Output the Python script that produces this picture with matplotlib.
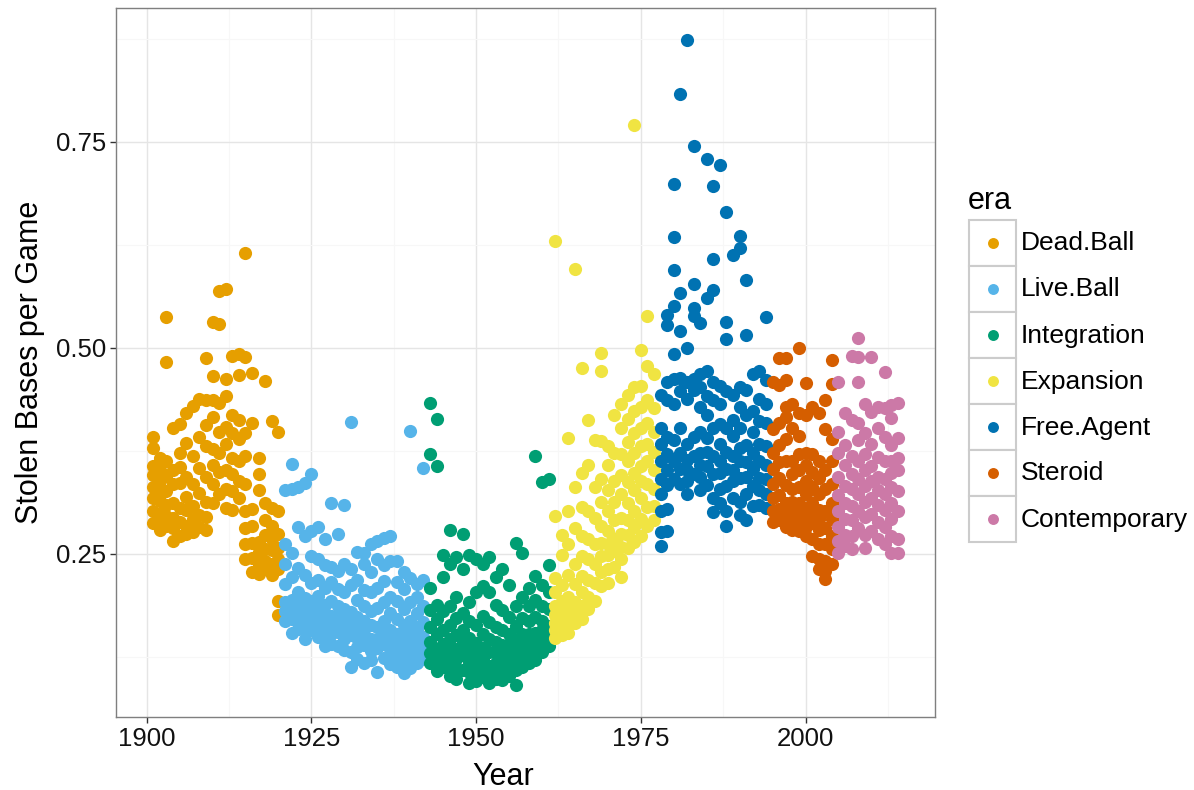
import numpy as np
import pandas as pd
import matplotlib
matplotlib.use("Agg")
import matplotlib.pyplot as plt
from matplotlib.patches import Rectangle

plt.rcParams['font.family'] = ['Liberation Sans', 'DejaVu Sans']

# stolen bases per game, one value per team-season
dead_ball = {
    1901: [0.392, 0.378, 0.357, 0.346, 0.331, 0.318, 0.302, 0.287],
    1902: [0.366, 0.352, 0.338, 0.327, 0.314, 0.298, 0.286, 0.279],
    1903: [0.537, 0.483, 0.362, 0.344, 0.326, 0.309, 0.296, 0.284],
    1904: [0.403, 0.351, 0.334, 0.312, 0.293, 0.281, 0.265],
    1905: [0.407, 0.372, 0.355, 0.336, 0.305, 0.288, 0.271],
    1906: [0.421, 0.384, 0.343, 0.319, 0.303, 0.284, 0.274],
    1907: [0.429, 0.368, 0.335, 0.308, 0.292, 0.276],
    1908: [0.438, 0.392, 0.354, 0.324, 0.297, 0.283],
    1909: [0.488, 0.437, 0.406, 0.381, 0.343, 0.313, 0.294, 0.279],
    1910: [0.531, 0.466, 0.437, 0.416, 0.377, 0.358, 0.334, 0.311],
    1911: [0.569, 0.529, 0.433, 0.398, 0.372, 0.349, 0.323],
    1912: [0.571, 0.462, 0.441, 0.404, 0.383, 0.352, 0.328, 0.306],
    1913: [0.490, 0.418, 0.396, 0.366, 0.347, 0.326, 0.303],
    1914: [0.492, 0.467, 0.412, 0.389, 0.362, 0.338, 0.317],
    1915: [0.615, 0.489, 0.397, 0.368, 0.334, 0.302, 0.281, 0.262, 0.243],
    1916: [0.469, 0.408, 0.304, 0.284, 0.263, 0.245, 0.228],
    1917: [0.366, 0.347, 0.327, 0.264, 0.252, 0.238, 0.226],
    1918: [0.460, 0.312, 0.291, 0.273, 0.256, 0.241, 0.232],
    1919: [0.411, 0.306, 0.284, 0.268, 0.254, 0.237, 0.224],
    1920: [0.398, 0.302, 0.274, 0.257, 0.243, 0.231, 0.193, 0.176],
}
live_ball = {
    1921: [0.327, 0.262, 0.238, 0.213, 0.192, 0.181, 0.168],
    1922: [0.359, 0.328, 0.251, 0.222, 0.194, 0.183, 0.171, 0.154],
    1923: [0.331, 0.283, 0.233, 0.204, 0.186, 0.173, 0.159],
    1924: [0.336, 0.271, 0.224, 0.196, 0.182, 0.169, 0.158, 0.147],
    1925: [0.347, 0.278, 0.247, 0.214, 0.193, 0.178, 0.166, 0.157],
    1926: [0.282, 0.243, 0.218, 0.199, 0.184, 0.172, 0.161, 0.149],
    1927: [0.268, 0.236, 0.209, 0.188, 0.177, 0.167, 0.158, 0.146, 0.138],
    1928: [0.311, 0.234, 0.216, 0.193, 0.174, 0.162, 0.152, 0.141],
    1929: [0.274, 0.229, 0.207, 0.186, 0.176, 0.164, 0.155, 0.138],
    1930: [0.309, 0.238, 0.203, 0.183, 0.171, 0.158, 0.147, 0.133],
    1931: [0.410, 0.232, 0.212, 0.179, 0.163, 0.151, 0.131, 0.112],
    1932: [0.252, 0.218, 0.194, 0.173, 0.162, 0.148, 0.137, 0.122],
    1933: [0.251, 0.237, 0.206, 0.187, 0.168, 0.153, 0.139, 0.118],
    1934: [0.262, 0.228, 0.203, 0.181, 0.163, 0.147, 0.132, 0.121],
    1935: [0.266, 0.243, 0.208, 0.184, 0.161, 0.146, 0.136, 0.107],
    1936: [0.269, 0.236, 0.217, 0.192, 0.168, 0.152, 0.141, 0.124],
    1937: [0.272, 0.241, 0.198, 0.178, 0.158, 0.143, 0.129, 0.116],
    1938: [0.241, 0.216, 0.193, 0.171, 0.153, 0.138, 0.127, 0.113],
    1939: [0.228, 0.207, 0.183, 0.164, 0.148, 0.133, 0.121, 0.105],
    1940: [0.399, 0.221, 0.192, 0.168, 0.152, 0.139, 0.124, 0.111],
    1941: [0.213, 0.197, 0.178, 0.159, 0.143, 0.131, 0.118],
    1942: [0.354, 0.218, 0.187, 0.167, 0.149, 0.134, 0.122],
}
integration = {
    1943: [0.433, 0.371, 0.209, 0.182, 0.161, 0.143, 0.129, 0.117],
    1944: [0.413, 0.357, 0.188, 0.171, 0.152, 0.134, 0.121, 0.108],
    1945: [0.248, 0.222, 0.181, 0.158, 0.141, 0.128, 0.113],
    1946: [0.279, 0.238, 0.186, 0.163, 0.147, 0.132, 0.118, 0.102],
    1947: [0.246, 0.197, 0.172, 0.151, 0.134, 0.122, 0.111, 0.098],
    1948: [0.274, 0.231, 0.178, 0.157, 0.143, 0.127, 0.109],
    1949: [0.249, 0.192, 0.168, 0.148, 0.133, 0.119, 0.106, 0.093],
    1950: [0.244, 0.203, 0.163, 0.142, 0.128, 0.116, 0.103, 0.096],
    1951: [0.238, 0.211, 0.174, 0.152, 0.136, 0.124, 0.112, 0.101],
    1952: [0.246, 0.204, 0.167, 0.147, 0.131, 0.114, 0.104, 0.093],
    1953: [0.222, 0.188, 0.161, 0.143, 0.129, 0.117, 0.107, 0.098],
    1954: [0.231, 0.182, 0.158, 0.139, 0.126, 0.118, 0.108, 0.097],
    1955: [0.212, 0.173, 0.153, 0.141, 0.132, 0.122, 0.113, 0.102],
    1956: [0.263, 0.186, 0.162, 0.144, 0.133, 0.123, 0.109, 0.091],
    1957: [0.251, 0.198, 0.172, 0.153, 0.141, 0.131, 0.122, 0.112],
    1958: [0.208, 0.187, 0.168, 0.152, 0.139, 0.128, 0.117],
    1959: [0.369, 0.223, 0.194, 0.173, 0.154, 0.142, 0.132, 0.121],
    1960: [0.337, 0.212, 0.186, 0.168, 0.157, 0.143, 0.131],
    1961: [0.341, 0.236, 0.204, 0.183, 0.162, 0.149, 0.138],
}
expansion = {
    1962: [0.630, 0.296, 0.221, 0.203, 0.187, 0.176, 0.166, 0.157, 0.148],
    1963: [0.273, 0.248, 0.212, 0.193, 0.181, 0.169, 0.158, 0.151],
    1964: [0.391, 0.302, 0.262, 0.224, 0.198, 0.183, 0.172, 0.163, 0.154],
    1965: [0.595, 0.331, 0.281, 0.238, 0.213, 0.192, 0.177, 0.166],
    1966: [0.475, 0.348, 0.307, 0.272, 0.247, 0.223, 0.204, 0.186, 0.171],
    1967: [0.412, 0.358, 0.302, 0.268, 0.243, 0.218, 0.197, 0.183],
    1968: [0.388, 0.331, 0.293, 0.262, 0.238, 0.214, 0.193],
    1969: [0.493, 0.472, 0.387, 0.341, 0.313, 0.284, 0.263, 0.247, 0.228, 0.211],
    1970: [0.381, 0.358, 0.327, 0.302, 0.278, 0.262, 0.248, 0.232, 0.214],
    1971: [0.418, 0.372, 0.338, 0.313, 0.291, 0.268, 0.253, 0.234],
    1972: [0.432, 0.403, 0.371, 0.346, 0.322, 0.293, 0.274, 0.258, 0.243, 0.222],
    1973: [0.442, 0.413, 0.386, 0.362, 0.337, 0.312, 0.291, 0.273, 0.257],
    1974: [0.770, 0.452, 0.423, 0.397, 0.372, 0.348, 0.327, 0.302, 0.283, 0.264],
    1975: [0.497, 0.454, 0.428, 0.403, 0.381, 0.357, 0.338, 0.318, 0.292, 0.272],
    1976: [0.538, 0.478, 0.437, 0.408, 0.383, 0.362, 0.334, 0.307, 0.284],
    1977: [0.468, 0.427, 0.398, 0.373, 0.352, 0.328, 0.308, 0.291],
}
free_agent = {
    1978: [0.443, 0.402, 0.383, 0.362, 0.341, 0.322, 0.302, 0.276, 0.259],
    1979: [0.540, 0.528, 0.458, 0.437, 0.392, 0.371, 0.352, 0.333, 0.304, 0.278],
    1980: [0.699, 0.634, 0.594, 0.550, 0.492, 0.462, 0.432, 0.388, 0.362, 0.341],
    1981: [0.808, 0.566, 0.520, 0.463, 0.447, 0.403, 0.372, 0.353, 0.334],
    1982: [0.873, 0.500, 0.458, 0.438, 0.383, 0.364, 0.351, 0.338, 0.322],
    1983: [0.745, 0.577, 0.548, 0.538, 0.462, 0.449, 0.392, 0.368, 0.347],
    1984: [0.530, 0.468, 0.452, 0.428, 0.398, 0.372, 0.358, 0.343, 0.327],
    1985: [0.729, 0.560, 0.472, 0.441, 0.418, 0.391, 0.373, 0.357, 0.333],
    1986: [0.696, 0.607, 0.570, 0.458, 0.437, 0.402, 0.368, 0.347, 0.318, 0.301],
    1987: [0.722, 0.453, 0.432, 0.407, 0.383, 0.362, 0.348, 0.328, 0.312],
    1988: [0.664, 0.531, 0.511, 0.447, 0.403, 0.373, 0.353, 0.332, 0.302, 0.284],
    1989: [0.613, 0.442, 0.412, 0.393, 0.368, 0.352, 0.338, 0.318],
    1990: [0.635, 0.621, 0.452, 0.428, 0.402, 0.378, 0.362, 0.342, 0.313, 0.297],
    1991: [0.582, 0.515, 0.449, 0.418, 0.382, 0.361, 0.343, 0.322, 0.291],
    1992: [0.468, 0.423, 0.398, 0.372, 0.353, 0.332, 0.308],
    1993: [0.472, 0.438, 0.411, 0.383, 0.362, 0.342, 0.327, 0.309],
    1994: [0.537, 0.461, 0.432, 0.408, 0.381, 0.358, 0.341, 0.322, 0.305],
}
steroid = {
    1995: [0.458, 0.401, 0.372, 0.353, 0.334, 0.318, 0.302, 0.288],
    1996: [0.488, 0.455, 0.408, 0.382, 0.361, 0.342, 0.321, 0.304, 0.291],
    1997: [0.487, 0.461, 0.428, 0.416, 0.389, 0.362, 0.333, 0.312, 0.298, 0.283],
    1998: [0.432, 0.402, 0.363, 0.347, 0.328, 0.313, 0.301, 0.291, 0.279],
    1999: [0.500, 0.421, 0.393, 0.371, 0.352, 0.331, 0.312, 0.298, 0.289, 0.277],
    2000: [0.457, 0.418, 0.372, 0.358, 0.338, 0.322, 0.304, 0.293, 0.282, 0.271],
    2001: [0.428, 0.371, 0.349, 0.331, 0.312, 0.298, 0.287, 0.268, 0.247],
    2002: [0.421, 0.362, 0.342, 0.322, 0.303, 0.292, 0.279, 0.262, 0.243, 0.231],
    2003: [0.437, 0.401, 0.352, 0.328, 0.302, 0.281, 0.262, 0.241, 0.229, 0.219],
    2004: [0.485, 0.456, 0.389, 0.362, 0.334, 0.311, 0.292, 0.271, 0.256, 0.238],
}
contemporary = {
    2005: [0.458, 0.398, 0.372, 0.343, 0.321, 0.302, 0.283, 0.266, 0.251],
    2006: [0.421, 0.382, 0.358, 0.332, 0.311, 0.292, 0.273, 0.259],
    2007: [0.490, 0.412, 0.368, 0.347, 0.328, 0.308, 0.291, 0.272, 0.256],
    2008: [0.512, 0.489, 0.458, 0.409, 0.388, 0.362, 0.341, 0.322, 0.302, 0.281],
    2009: [0.432, 0.397, 0.371, 0.352, 0.332, 0.313, 0.294, 0.273, 0.257],
    2010: [0.489, 0.422, 0.383, 0.357, 0.338, 0.318, 0.298, 0.277],
    2011: [0.428, 0.402, 0.367, 0.343, 0.327, 0.309, 0.289, 0.268],
    2012: [0.470, 0.427, 0.392, 0.362, 0.341, 0.323, 0.303, 0.282, 0.262],
    2013: [0.431, 0.415, 0.382, 0.363, 0.348, 0.331, 0.312, 0.292, 0.271, 0.251],
    2014: [0.433, 0.391, 0.366, 0.352, 0.326, 0.302, 0.268, 0.251],
}

eras = ["Dead.Ball", "Live.Ball", "Integration", "Expansion",
        "Free.Agent", "Steroid", "Contemporary"]
era_data = [dead_ball, live_ball, integration, expansion,
            free_agent, steroid, contemporary]
era_colors = ["#E69F00", "#56B4E9", "#009E73", "#F0E442",
              "#0072B2", "#D55E00", "#CC79A7"]

rows = []
for era, d in zip(eras, era_data):
    for yr, vals in d.items():
        for v in vals:
            rows.append((yr, v, era))
df = pd.DataFrame(rows, columns=["Year", "SB", "era"])

W, H = 1194, 790
fig = plt.figure(figsize=(W / 100, H / 100), dpi=100)
ax = fig.add_axes([116 / W, 1 - 717 / H, (935 - 116) / W, (717 - 8) / H])

for era, col in zip(eras, era_colors):
    sub = df[df.era == era]
    ax.scatter(sub.Year, sub.SB, s=90, color=col, linewidths=0, zorder=3)

# ggplot style 5% expansion
def expand(lo, hi, f=0.05):
    r = hi - lo
    return lo - r * f, hi + r * f

ax.set_xlim(*expand(df.Year.min(), df.Year.max()))
ax.set_ylim(*expand(df.SB.min(), df.SB.max()))

ax.set_xticks([1900, 1925, 1950, 1975, 2000])
ax.set_xticks(np.arange(1912.5, 2020, 25), minor=True)
ax.set_yticks([0.25, 0.50, 0.75])
ax.set_yticklabels(["0.25", "0.50", "0.75"])
ax.set_yticks([0.125, 0.375, 0.625, 0.875], minor=True)
ax.grid(which="major", color="#E5E5E5", lw=1.0, zorder=0)
ax.grid(which="minor", color="#F7F7F7", lw=0.8, zorder=0)
ax.tick_params(which="major", direction="out", length=4, width=1.0,
               color="#333333", labelsize=18.5, labelcolor="#111111", pad=3)
ax.tick_params(which="minor", length=0)
for sp in ax.spines.values():
    sp.set_color("#7F7F7F")
    sp.set_linewidth(1.0)

ax.set_xlabel("Year", fontsize=22, labelpad=2)
ax.xaxis.set_label_coords((503 - 116) / (935 - 116), -0.063)
ax.set_ylabel("Stolen Bases per Game", fontsize=22, labelpad=8)

# legend drawn in pixel space
lax = fig.add_axes([0, 0, 1, 1])
lax.set_xlim(0, W)
lax.set_ylim(H, 0)
lax.axis("off")
lax.text(968, 201, "era", fontsize=22, va="center", ha="left")
key_top, key_h = 219.5, 46
for i, (era, col) in enumerate(zip(eras, era_colors)):
    y0 = key_top + i * key_h
    lax.add_patch(Rectangle((969, y0), 47, key_h, facecolor="white",
                            edgecolor="#CCCCCC", lw=1.5))
    lax.scatter([992.5], [y0 + key_h / 2], s=62, color=col, linewidths=0)
    lax.text(1021, y0 + key_h / 2 + 1, era, fontsize=19, va="center", ha="left")

fig.savefig("out.png", dpi=100)
